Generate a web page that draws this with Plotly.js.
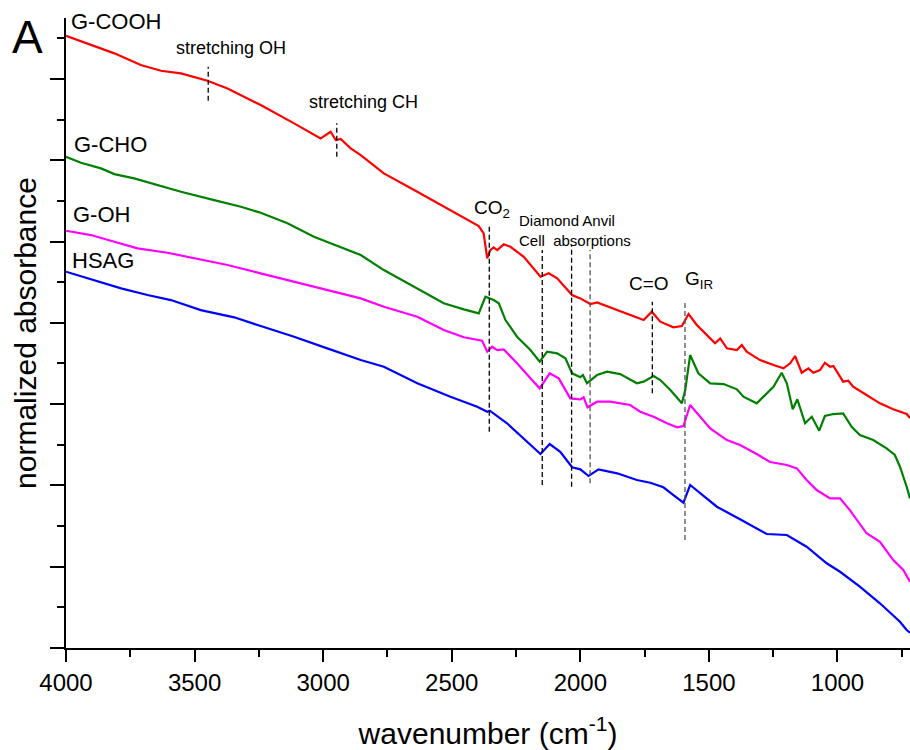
<!DOCTYPE html>
<html>
<head>
<meta charset="utf-8">
<script src="https://cdn.plot.ly/plotly-3.0.1.min.js"></script>
<style>html,body{margin:0;padding:0;background:#fff;}#chart{width:910px;height:750px;}</style>
</head>
<body>
<div id="chart"></div>
<script>
// ---- data (wavenumber in cm^-1, normalized absorbance in arbitrary offset units) ----
const cooh_x = [4000,3890,3812,3709,3631,3553,3450,3372,3243,3113,3010,2971,2951,2932,2893,2854,2764,2634,2505,2395,2376,2362,2350,2337,2323,2298,2272,2220,2155,2123,2090,2032,2000,1961,1935,1857,1754,1722,1689,1638,1605,1579,1547,1495,1476,1456,1430,1391,1372,1353,1301,1249,1210,1184,1165,1139,1113,1094,1068,1049,1029,1016,978,958,939,887,835,783,731,718];
const cooh_y = [7.53,7.405,7.315,7.171,7.101,7.069,6.978,6.884,6.679,6.454,6.269,6.351,6.248,6.261,6.146,6.064,5.839,5.613,5.387,5.191,5.101,4.793,4.895,4.929,4.895,4.966,4.936,4.813,4.567,4.609,4.547,4.342,4.301,4.231,4.252,4.157,4.034,4.137,4.014,3.945,3.961,4.108,3.973,3.809,3.748,3.809,3.686,3.665,3.727,3.645,3.542,3.481,3.440,3.502,3.592,3.386,3.440,3.386,3.419,3.509,3.460,3.469,3.276,3.288,3.214,3.112,3.010,2.936,2.878,2.829];

const cho_x = [4000,3942,3864,3812,3735,3644,3553,3424,3320,3243,3139,3036,2932,2854,2764,2634,2531,2453,2395,2369,2337,2317,2291,2246,2194,2158,2129,2090,2058,2032,2000,1990,1974,1935,1896,1845,1780,1754,1715,1689,1650,1605,1592,1573,1541,1495,1443,1391,1366,1314,1288,1249,1217,1197,1174,1156,1126,1100,1071,1049,1016,978,945,913,861,809,777,757,731,718];
const cho_y = [6.043,5.969,5.900,5.830,5.777,5.695,5.613,5.510,5.428,5.354,5.224,5.059,4.936,4.834,4.649,4.424,4.240,4.166,4.117,4.321,4.280,4.240,4.034,3.829,3.665,3.522,3.645,3.625,3.563,3.379,3.330,3.358,3.256,3.358,3.399,3.370,3.256,3.276,3.346,3.296,3.173,3.010,3.173,3.604,3.379,3.256,3.247,3.182,3.091,3.010,3.091,3.214,3.386,3.256,2.936,3.059,2.764,2.845,2.673,2.854,2.878,2.887,2.722,2.620,2.558,2.456,2.374,2.230,1.984,1.841];

const oh_x = [4000,3903,3812,3722,3605,3502,3372,3243,3113,2984,2854,2764,2634,2531,2453,2382,2362,2343,2323,2298,2246,2188,2158,2119,2084,2039,2000,1987,1972,1935,1884,1806,1767,1715,1663,1624,1599,1573,1534,1495,1430,1379,1314,1262,1197,1158,1120,1081,1029,990,952,887,835,783,744,718];
const oh_y = [5.133,5.080,4.998,4.916,4.862,4.793,4.711,4.609,4.506,4.403,4.301,4.198,4.075,3.911,3.822,3.780,3.645,3.706,3.665,3.674,3.502,3.296,3.194,3.379,3.317,3.071,3.059,3.084,2.961,3.030,3.030,2.989,2.906,2.845,2.764,2.715,2.731,2.989,2.845,2.702,2.558,2.497,2.386,2.288,2.251,2.210,2.066,1.943,1.841,1.841,1.697,1.411,1.307,1.082,0.959,0.816];

const hsag_x = [4000,3890,3786,3683,3592,3476,3346,3243,3113,2984,2854,2764,2634,2505,2401,2362,2352,2285,2220,2155,2119,2078,2032,2000,1968,1929,1857,1780,1728,1677,1638,1599,1573,1534,1469,1379,1275,1197,1120,1042,990,913,835,757,731,718];
const hsag_y = [4.629,4.526,4.424,4.342,4.280,4.157,4.068,3.961,3.829,3.686,3.542,3.460,3.256,3.091,2.968,2.906,2.919,2.764,2.579,2.386,2.509,2.414,2.223,2.198,2.116,2.198,2.149,2.066,2.033,1.977,1.882,1.787,2.005,1.903,1.738,1.583,1.402,1.390,1.246,1.042,0.938,0.754,0.550,0.323,0.221,0.188];

const seriesNames = ["G-COOH","G-CHO","G-OH","HSAG"];
const seriesColors = ["#ff0000","#008000","#ff00ff","#0000ff"];

// band markers (dashed verticals)
const bandX      = [3447, 2947, 2354, 2148, 2034, 1962, 1720, 1593];
const bandTop    = [7.150, 6.454, 5.182, 4.895, 4.957, 4.895, 4.260, 4.280];
const bandBottom = [6.732, 6.043, 2.661, 2.005, 1.984, 2.026, 3.133, 1.328];
const bandGrey   = [false, false, false, false, false, true, false, true];

// labels
const labelText = ["G-COOH","G-CHO","G-OH","HSAG","stretching OH","stretching CH","CO<sub>2</sub>","Diamond Anvil<br>Cell  absorptions","C=O","G<sub>IR</sub>"];
const labelX    = [3988, 3978, 3980, 3984, 3360, 2845, 2422, 2247, 1733, 1600];
const labelY    = [7.713, 6.191, 5.330, 4.767, 7.387, 6.711, 5.40, 5.136, 4.478, 4.53];

const FONT = "Liberation Sans, Arial, sans-serif";

const xs = [cooh_x, cho_x, oh_x, hsag_x];
const ys = [cooh_y, cho_y, oh_y, hsag_y];
const traces = xs.map((x, i) => ({
  type: "scatter", mode: "lines", x: x, y: ys[i], name: seriesNames[i],
  line: {color: seriesColors[i], width: 2.2}, hoverinfo: "skip"
}));

const shapes = bandX.map((bx, i) => ({
  type: "line", xref: "x", yref: "y", x0: bx, x1: bx, y0: bandBottom[i], y1: bandTop[i],
  line: {color: bandGrey[i] ? "#555555" : "#000000", width: 1.3, dash: "5px,3px"}
}));

const labelSizes = [22,22,22,22,18,18,19,15,19,19];
const labelAnchor = ["left","left","left","left","center","center","left","left","center","left"];
const annotations = labelText.map((t, i) => ({
  text: t, x: labelX[i], y: labelY[i], xref: "x", yref: "y", showarrow: false,
  xanchor: labelAnchor[i], yanchor: "middle", align: "left",
  font: {family: FONT, size: labelSizes[i], color: "#000"}
}));
annotations.push({
  text: "A", xref: "paper", yref: "paper", x: -0.0456, y: 0.970, showarrow: false,
  xanchor: "center", yanchor: "middle", font: {family: FONT, size: 46, color: "#000"}
});

const layout = {
  width: 910, height: 750,
  margin: {l: 66, r: 0, t: 18, b: 102},
  paper_bgcolor: "#fff", plot_bgcolor: "#fff",
  showlegend: false,
  font: {family: FONT, color: "#000"},
  xaxis: {
    range: [4000, 718], showgrid: false, zeroline: false,
    showline: true, linecolor: "#000", linewidth: 2,
    ticks: "outside", ticklen: 12, tickwidth: 2, tickcolor: "#000",
    tick0: 0, dtick: 500, ticklabelstandoff: 0,
    minor: {dtick: 250, ticks: "outside", ticklen: 7, tickwidth: 2, tickcolor: "#000", showgrid: false},
    tickfont: {family: FONT, size: 24, color: "#000"},
    title: {text: "wavenumber (cm<sup>-1</sup>)", font: {family: FONT, size: 30, color: "#000"}, standoff: 28}
  },
  yaxis: {
    range: [0, 7.75], showgrid: false, zeroline: false,
    showline: true, linecolor: "#000", linewidth: 2,
    ticks: "outside", ticklen: 14, tickwidth: 2, tickcolor: "#000",
    tick0: 0, dtick: 1, showticklabels: false,
    minor: {dtick: 0.5, ticks: "outside", ticklen: 7, tickwidth: 2, tickcolor: "#000", showgrid: false},
    title: {text: "normalized absorbance", font: {family: FONT, size: 30, color: "#000"}, standoff: 5}
  },
  shapes: shapes,
  annotations: annotations
};

Plotly.newPlot("chart", traces, layout, {staticPlot: true, displayModeBar: false});
</script>
</body>
</html>
